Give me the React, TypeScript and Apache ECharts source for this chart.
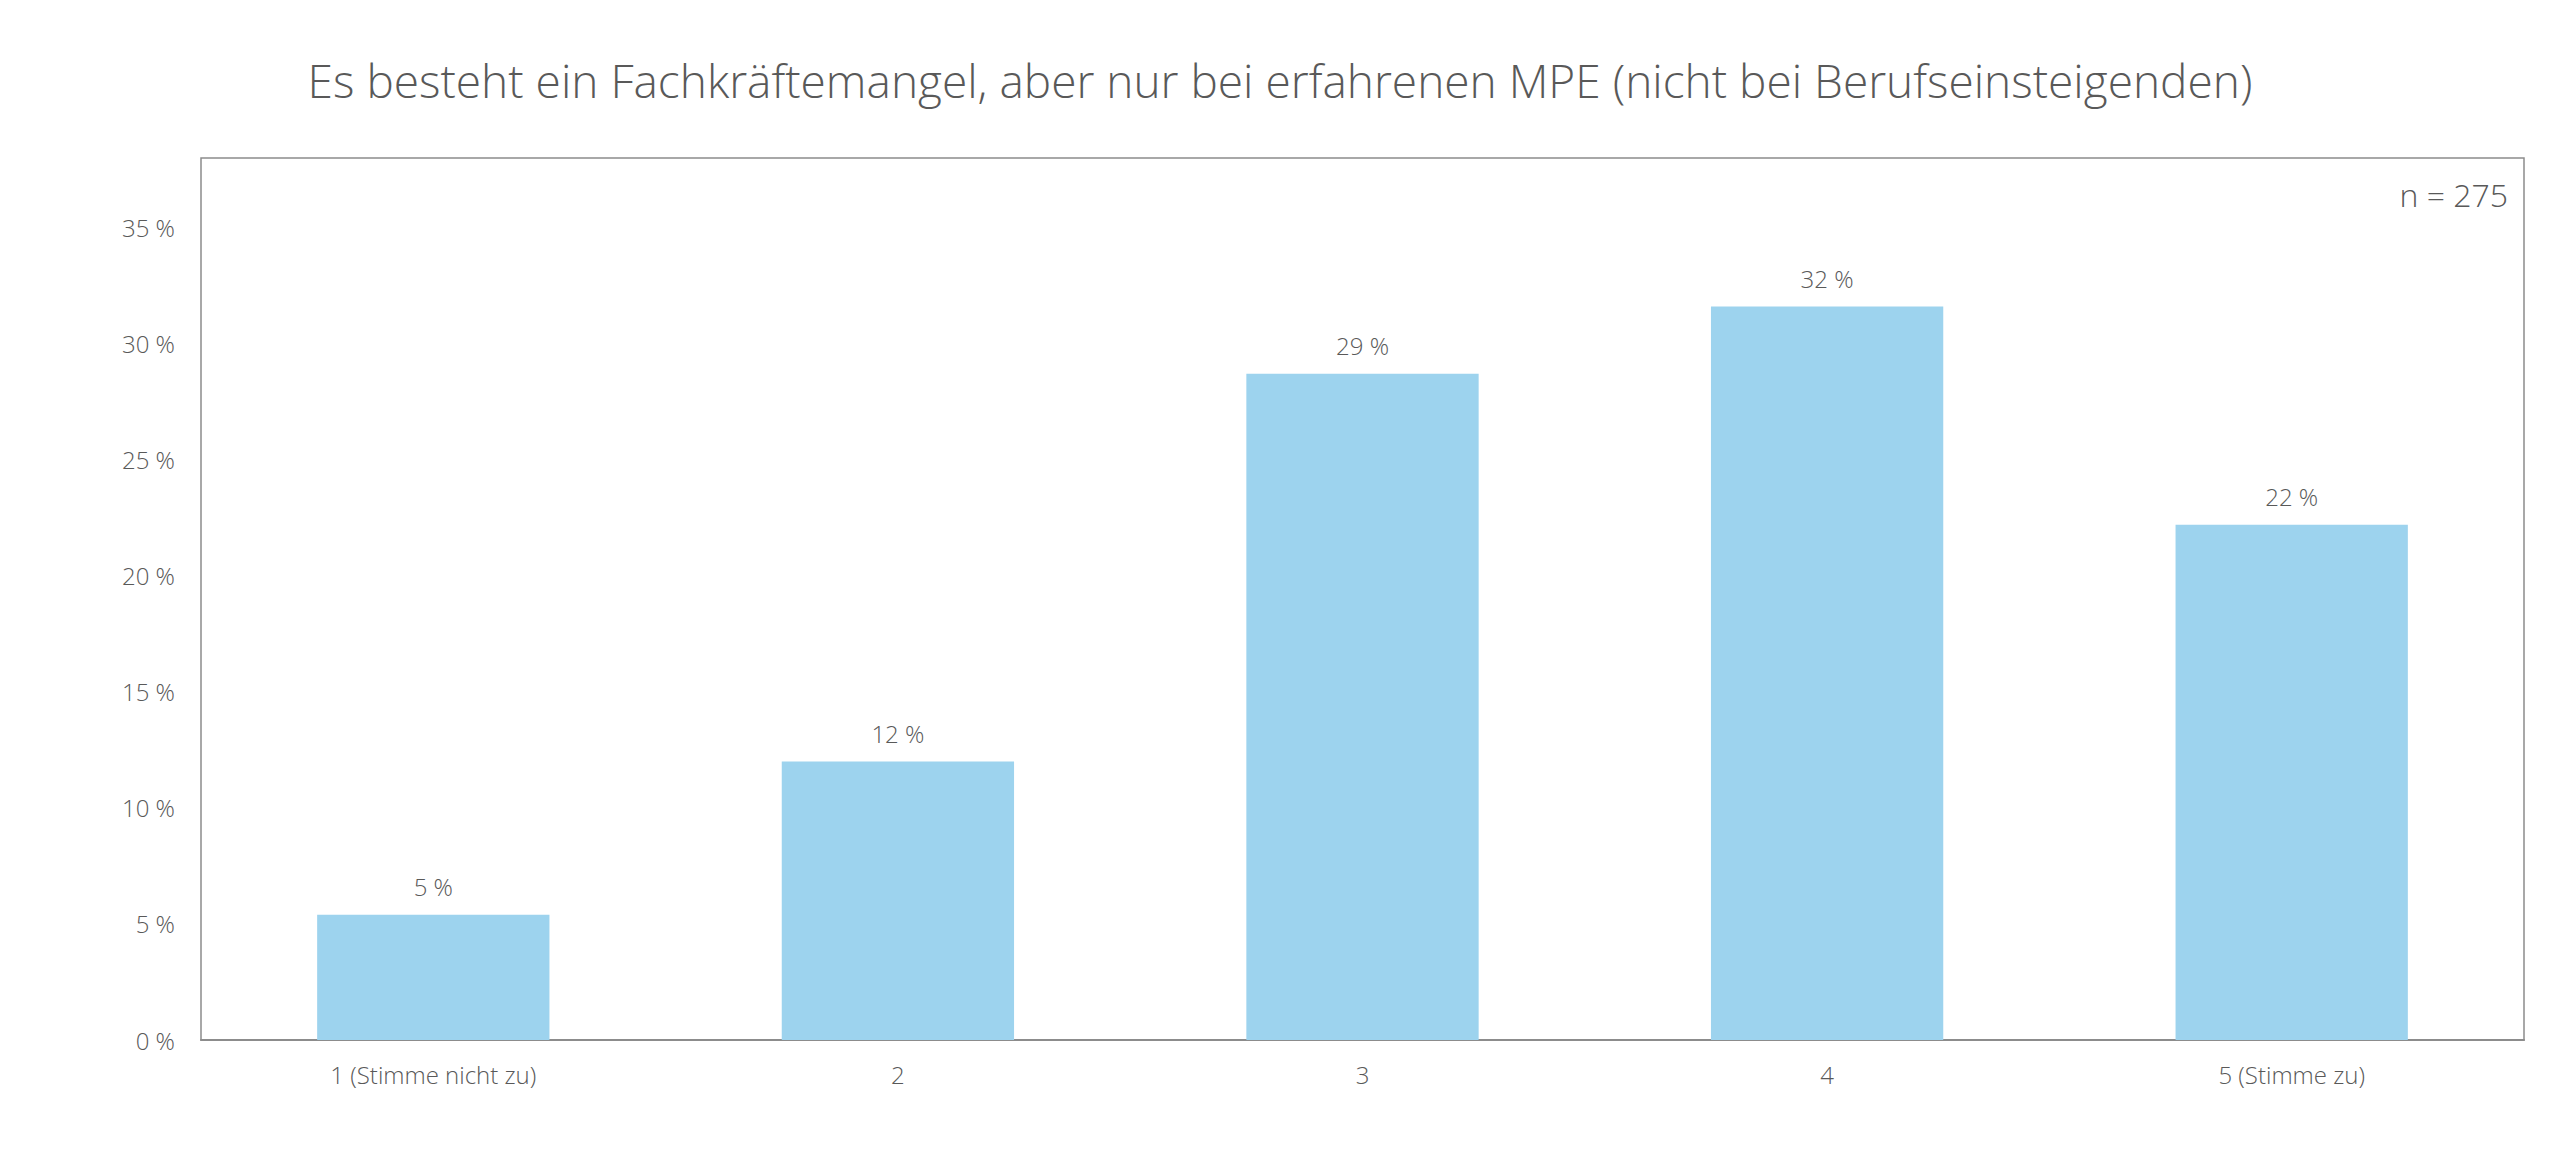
import { useEffect, useRef } from 'react'
import * as echarts from 'echarts'

const categories = ['1 (Stimme nicht zu)', '2', '3', '4', '5 (Stimme zu)']
const values = [5.4, 12.0, 28.7, 31.6, 22.2]
const labels = ['5 %', '12 %', '29 %', '32 %', '22 %']
const title = 'Es besteht ein Fachkräftemangel, aber nur bei erfahrenen MPE (nicht bei Berufseinsteigenden)'
const note = 'n = 275'

const FONT = '"Open Sans", sans-serif'
const TEXT = '#595959'

export default function App() {
  const ref = useRef<HTMLDivElement>(null)

  useEffect(() => {
    if (!ref.current) return
    const chart = echarts.init(ref.current, null, { renderer: 'svg' })
    chart.setOption({
      animation: false,
      backgroundColor: '#fff',
      title: {
        text: title,
        left: 'center',
        top: 52,
        textStyle: { color: TEXT, fontFamily: FONT, fontWeight: 300, fontSize: 46 },
      },
      graphic: [
        {
          type: 'text',
          right: 52,
          top: 178,
          style: { text: note, fill: TEXT, font: `300 32px ${FONT}` },
        },
      ],
      grid: {
        left: 201, right: 36, top: 158, bottom: 132,
        show: true, borderColor: '#8c8c8c', borderWidth: 1.5,
      },
      xAxis: {
        type: 'category',
        data: categories,
        axisLine: { lineStyle: { color: '#8c8c8c', width: 2 } },
        axisTick: { show: false },
        axisLabel: { color: TEXT, fontFamily: FONT, fontWeight: 300, fontSize: 24, margin: 22 },
      },
      yAxis: {
        type: 'value',
        min: 0,
        max: 38,
        interval: 5,
        axisLine: { show: false },
        axisTick: { show: false },
        splitLine: { show: false },
        axisLabel: {
          color: TEXT, fontFamily: FONT, fontWeight: 300, fontSize: 24, margin: 26,
          showMaxLabel: false,
          formatter: (v: number) => (v % 5 === 0 ? `${v} %` : ''),
        },
      },
      series: [
        {
          type: 'bar',
          data: values,
          barWidth: '50%',
          itemStyle: { color: '#9dd3ee' },
          label: {
            show: true,
            position: 'top',
            distance: 16,
            color: TEXT,
            fontFamily: FONT,
            fontWeight: 300,
            fontSize: 24,
            formatter: (p: { dataIndex: number }) => labels[p.dataIndex],
          },
        },
      ],
    })
    return () => chart.dispose()
  }, [])

  return <div ref={ref} style={{ position: 'absolute', left: 0, top: 0, width: 2560, height: 1172 }} />
}
